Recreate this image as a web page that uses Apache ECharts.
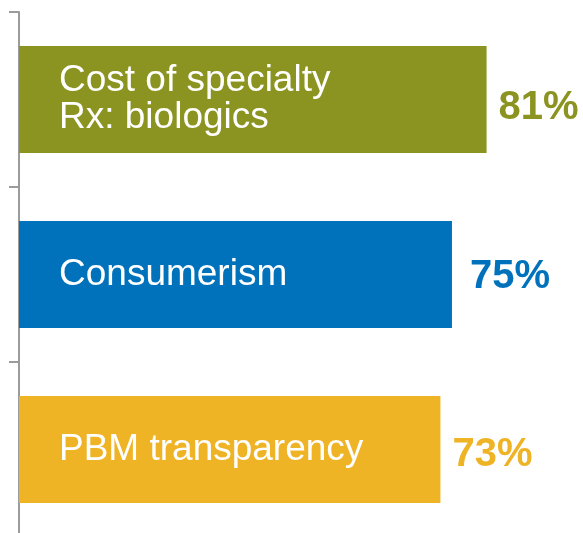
<!DOCTYPE html>
<html>
<head>
<meta charset="utf-8">
<script src="https://cdn.jsdelivr.net/npm/echarts@6/dist/echarts.min.js"></script>
<style>
  html, body { margin: 0; padding: 0; background: #fff; overflow: hidden; }
  /* a little taller than the window so the axis runs off the bottom edge */
  #chart { width: 583px; height: 540px; }
</style>
</head>
<body>
<div id="chart"></div>
<script>
const categories = ['Cost of specialty\nRx: biologics', 'Consumerism', 'PBM transparency']
const values = [81, 75, 73]
const colors = ['#8B9321', '#0072BC', '#EFB326']
// small nudges so the value labels sit where they do in the source
const labelNudge = [[0, 8], [6, 2], [0, 5]]

const chart = echarts.init(document.getElementById('chart'))
const font = "'Liberation Sans', Arial, sans-serif"

chart.setOption({
  animation: false,
  grid: { left: 19, top: 12, right: 0, height: 525 },
  xAxis: { type: 'value', min: 0, max: 97.7, show: false },
  yAxis: {
    type: 'category', data: categories, inverse: true,
    axisLine: { show: true, lineStyle: { color: '#9b9b9b', width: 2 } },
    axisTick: { show: true, length: 10, lineStyle: { color: '#9b9b9b', width: 2 } },
    axisLabel: { show: false }
  },
  series: [
    {
      type: 'bar', barWidth: 107, z: 3,
      data: values.map((v, i) => ({ value: v, itemStyle: { color: colors[i] } })),
      label: {
        show: true, position: 'insideLeft', distance: 40,
        color: '#fff', fontFamily: font, fontSize: 37, lineHeight: 37,
        formatter: p => categories[p.dataIndex]
      }
    },
    {
      type: 'bar', barWidth: 107, barGap: '-100%', z: 2, silent: true,
      itemStyle: { color: 'transparent' },
      data: values.map((v, i) => ({
        value: v,
        label: { color: colors[i], offset: labelNudge[i] }
      })),
      label: {
        show: true, position: 'right', distance: 12,
        fontFamily: font, fontSize: 40, fontWeight: 'bold',
        formatter: '{c}%'
      }
    }
  ]
})
</script>
</body>
</html>
